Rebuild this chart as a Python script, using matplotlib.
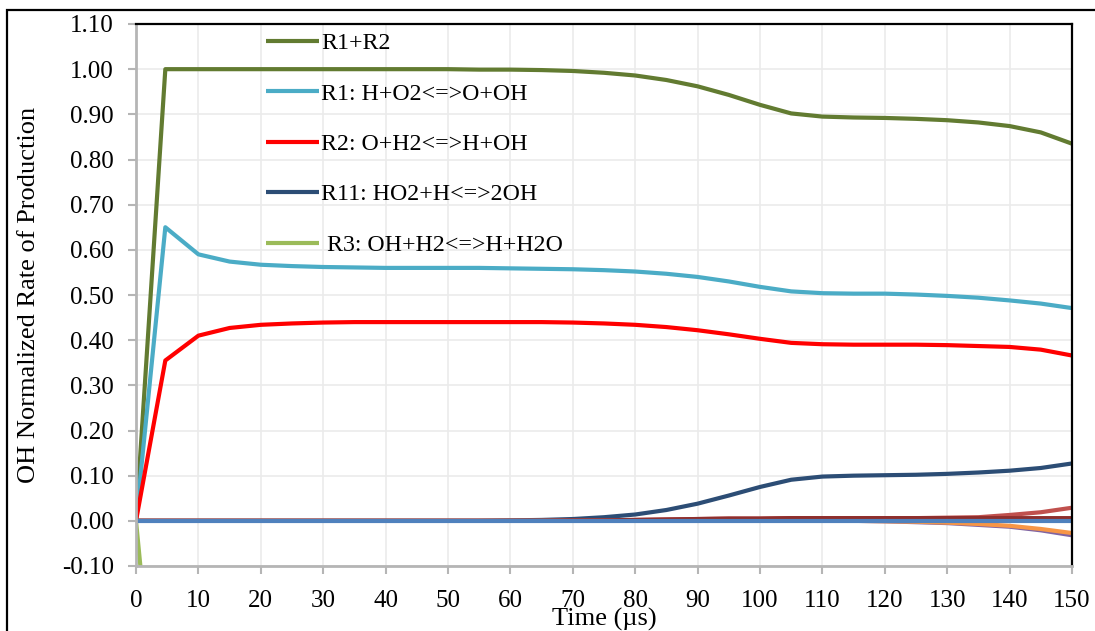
"""OH normalized rate of production vs time (R1, R2, R11, R3 and others)."""
import matplotlib
matplotlib.use("Agg")
import matplotlib.pyplot as plt
from matplotlib.patches import Rectangle

# time (us)
TIME = [0, 4.7, 10, 15, 20, 25, 30, 35, 40, 45, 50, 55, 60, 65, 70, 75,
        80, 85, 90, 95, 100, 105, 110, 115, 120, 125, 130, 135, 140, 145, 150]

R1_R2 = [0, 1.0, 1.0, 1.0, 1.0, 1.0, 1.0, 1.0, 1.0, 1.0, 1.0, 0.999, 0.999,
         0.998, 0.996, 0.992, 0.986, 0.976, 0.962, 0.943, 0.921, 0.902, 0.895,
         0.893, 0.892, 0.890, 0.887, 0.882, 0.874, 0.860, 0.835]
R1 = [0, 0.65, 0.59, 0.574, 0.567, 0.564, 0.562, 0.561, 0.560, 0.560, 0.560,
      0.560, 0.559, 0.558, 0.557, 0.555, 0.552, 0.547, 0.540, 0.530, 0.518,
      0.508, 0.504, 0.503, 0.503, 0.501, 0.498, 0.494, 0.488, 0.481, 0.471]
R2 = [0, 0.355, 0.41, 0.427, 0.434, 0.437, 0.439, 0.440, 0.440, 0.440, 0.440,
      0.440, 0.440, 0.440, 0.439, 0.437, 0.434, 0.429, 0.422, 0.413, 0.403,
      0.394, 0.391, 0.390, 0.390, 0.390, 0.389, 0.387, 0.385, 0.379, 0.366]
R11 = [0, 0, 0, 0, 0, 0, 0, 0, 0, 0, 0, 0, 0.001, 0.002, 0.004, 0.008, 0.014,
       0.024, 0.038, 0.056, 0.075, 0.091, 0.098, 0.100, 0.101, 0.102, 0.104,
       0.107, 0.111, 0.117, 0.127]
# R3 drops below the axis right away (only the first stretch is visible)
R3 = [0, -0.67, -0.64, -0.62, -0.61, -0.61, -0.60, -0.60, -0.60, -0.60, -0.60,
      -0.60, -0.60, -0.60, -0.60, -0.60, -0.59, -0.59, -0.58, -0.57, -0.56,
      -0.55, -0.55, -0.55, -0.55, -0.55, -0.54, -0.54, -0.53, -0.52, -0.50]

# minor reactions near zero (not in legend)
MINOR_PURPLE = [0] * 24 + [-0.001, -0.003, -0.005, -0.009, -0.013, -0.021, -0.032]
MINOR_ORANGE = [0] * 24 + [-0.001, -0.002, -0.004, -0.007, -0.011, -0.018, -0.027]
MINOR_LIGHTRED = [0] * 14 + [0.001, 0.001, 0.002, 0.003, 0.004, 0.005, 0.005,
                             0.006, 0.006, 0.006, 0.006, 0.006, 0.007, 0.008,
                             0.013, 0.019, 0.029]
MINOR_DARKRED = [0] * 14 + [0.001, 0.001, 0.002, 0.003, 0.004, 0.005, 0.005,
                            0.006, 0.006, 0.006, 0.006, 0.006, 0.006, 0.006,
                            0.006, 0.006, 0.006]
MINOR_BLUE = [0] * 31

LABELS = ["R1+R2", "R1: H+O2<=>O+OH", "R2: O+H2<=>H+OH",
          "R11: HO2+H<=>2OH", " R3: OH+H2<=>H+H2O"]
COLORS = ["#627B31", "#4BACC6", "#FF0000", "#2C4D75", "#9BBB59"]
MINOR_COLORS = ["#8064A2", "#F79646", "#C0504D", "#8E2F2D", "#4F81BD"]


def main():
    plt.rcParams["font.family"] = ["Liberation Serif", "DejaVu Serif"]
    fig = plt.figure(figsize=(10.95, 6.31), dpi=100)
    ax = fig.add_axes([136 / 1095, 1 - 566 / 631, 936 / 1095, 542 / 631])

    lw = 3.0
    for ys, c, lab in zip([R1_R2, R1, R2, R11, R3], COLORS, LABELS):
        ax.plot(TIME, ys, color=c, lw=lw, label=lab, solid_capstyle="butt")
    for ys, c in zip([MINOR_PURPLE, MINOR_ORANGE, MINOR_LIGHTRED,
                      MINOR_DARKRED, MINOR_BLUE], MINOR_COLORS):
        ax.plot(TIME, ys, color=c, lw=lw, solid_capstyle="butt")

    ax.set_xlim(0, 150)
    ax.set_ylim(-0.1, 1.1)
    ax.set_xticks(range(0, 151, 10))
    ax.set_yticks([i / 10 for i in range(-1, 12)])
    ax.set_yticklabels([f"{i / 10:.2f}" for i in range(-1, 12)])
    ax.grid(True, color="#EBEBEB", lw=1.2)
    ax.set_axisbelow(True)

    for s in ("left", "bottom"):
        ax.spines[s].set_color("#B5B5B5")
        ax.spines[s].set_linewidth(2)
    for s in ("top", "right"):
        ax.spines[s].set_color("black")
        ax.spines[s].set_linewidth(1.6)
    ax.tick_params(axis="both", color="#B5B5B5", width=1.5, length=6,
                   labelsize=18)
    ax.tick_params(axis="y", pad=10)
    ax.tick_params(axis="x", pad=11)

    ax.set_ylabel("OH Normalized Rate of Production", fontsize=19)
    ax.yaxis.set_label_coords(-0.103, 0.5)
    ax.set_xlabel("Time (µs)", fontsize=19)
    ax.xaxis.set_label_coords(0.5, -0.078)

    ax.legend(loc="upper left", bbox_to_anchor=(0.121, 1.015), frameon=False,
              fontsize=17.2, handlelength=2.2, handletextpad=0.1,
              labelspacing=1.2, borderaxespad=0.3)

    # outer chart border (cut off at the right and bottom)
    fig.patches.append(Rectangle((7 / 1095, -0.05), 1.1, 1 - 10 / 631 + 0.05,
                                 transform=fig.transFigure, fill=False,
                                 edgecolor="black", lw=1.6))

    fig.savefig("out.png", dpi=100)


if __name__ == "__main__":
    main()
